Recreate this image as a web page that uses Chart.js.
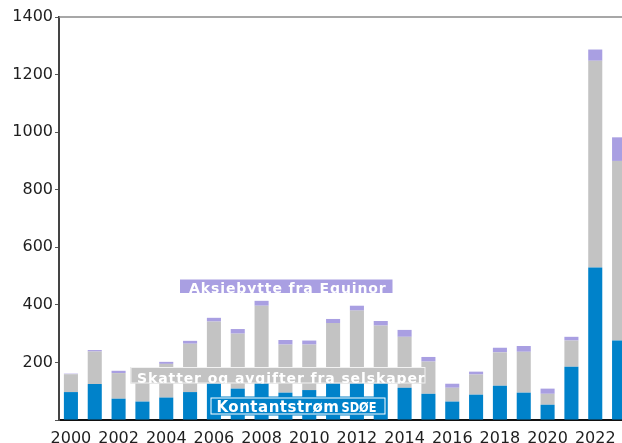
<!DOCTYPE html>
<html>
<head>
<meta charset="utf-8">
<script src="https://cdn.jsdelivr.net/npm/chart.js@4/dist/chart.umd.min.js"></script>
<style>
  html, body { margin: 0; padding: 0; background: #ffffff; overflow: hidden; width: 622px; height: 443px; }
  #wrap { position: absolute; left: 0; top: 0; width: 631px; height: 443px; }
</style>
</head>
<body>
<div id="wrap"><canvas id="c" width="631" height="443"></canvas></div>
<script>
// Statens inntekter fra petroleumsvirksomheten, mrd. kroner
const years = ['2000','2001','2002','2003','2004','2005','2006','2007','2008','2009','2010','2011',
               '2012','2013','2014','2015','2016','2017','2018','2019','2020','2021','2022','2023'];
const kontantstrom = [97,125,74,64,78,97,128,109,130,95,104,130,135,128,112,91,64,88,119,95,53,185,530,276];
const skatter      = [62,113,89,108,117,168,214,191,267,167,158,207,245,200,177,112,48,70,116,142,38,91,718,624];
const aksjebytte   = [2,5,8,6,7,10,13,16,17,16,14,14,17,16,24,16,14,10,16,20,18,13,39,82];
const yTicks = [0,200,400,600,800,1000,1200,1400];

const BLUE = '#0082ca';
const GREY = '#c3c3c3';
const PURPLE = '#a99fe2';
const FONT = '"DejaVu Sans", Verdana, sans-serif';

// Series name boxes drawn inside the plot area
const seriesLabels = {
  id: 'seriesLabels',
  afterDatasetsDraw(chart) {
    const ctx = chart.ctx;
    function box(x, y, w, h, fill, border) {
      ctx.fillStyle = fill;
      ctx.fillRect(x, y, w, h);
      if (border) {
        ctx.strokeStyle = border;
        ctx.lineWidth = 1;
        ctx.strokeRect(x + 1.5, y + 1.5, w - 3, h - 3);
      }
    }
    function text(str, x, base, size, clip, spacing, maxW) {
      ctx.save();
      ctx.beginPath();
      ctx.rect(clip[0], clip[1], clip[2], clip[3]);
      ctx.clip();
      ctx.font = 'bold ' + size + 'px ' + FONT;
      ctx.fillStyle = '#ffffff';
      ctx.textBaseline = 'alphabetic';
      ctx.textAlign = 'left';
      try { ctx.letterSpacing = spacing + 'px'; } catch (e) {}
      if (maxW) ctx.fillText(str, x, base, maxW); else ctx.fillText(str, x, base);
      ctx.restore();
    }
    ctx.save();
    // Aksjebytte fra Equinor
    const a = [180, 279.5, 212.5, 13.5];
    box(a[0], a[1], a[2], a[3], PURPLE, null);
    text('Aksjebytte fra Equinor', 189, 292.5, 14, a, 0.9);
    // Skatter og avgifter fra selskaper
    const s = [130.5, 367, 295, 16.5];
    box(s[0], s[1], s[2], s[3], GREY, null);
    ctx.strokeStyle = '#f2f2f2';
    ctx.lineWidth = 1;
    ctx.strokeRect(s[0] + 0.5, s[1] + 0.5, s[2] - 1, s[3] - 1);
    text('Skatter og avgifter fra selskaper', 137, 382.5, 14, s, 0.9);
    // Kontantstrøm SDØE
    const k = [209.5, 396.5, 177, 19];
    box(k[0], k[1], k[2], k[3], BLUE, '#ffffff');
    text('Kontantstrøm', 216.5, 412, 15, k, 0.5, 123);
    text('SDØE', 341.5, 412, 14.5, k, 0, 35);
    ctx.restore();
  }
};

// Thin frame line along the top of the plot area
const topLine = {
  id: 'topLine',
  beforeDatasetsDraw(chart) {
    const ctx = chart.ctx, ca = chart.chartArea;
    ctx.save();
    ctx.strokeStyle = '#8a8a8a';
    ctx.lineWidth = 1.5;
    ctx.beginPath();
    ctx.moveTo(ca.left, ca.top);
    ctx.lineTo(ca.right + 10, ca.top);
    ctx.stroke();
    ctx.restore();
  }
};

new Chart(document.getElementById('c'), {
  type: 'bar',
  data: {
    labels: years,
    datasets: [
      { label: 'Kontantstrøm SDØE', data: kontantstrom, backgroundColor: BLUE },
      { label: 'Skatter og avgifter fra selskaper', data: skatter, backgroundColor: GREY },
      { label: 'Aksjebytte fra Equinor', data: aksjebytte, backgroundColor: PURPLE }
    ]
  },
  options: {
    responsive: false,
    animation: false,
    devicePixelRatio: 1,
    layout: { padding: { top: 17, right: 0, left: 0, bottom: 0 } },
    datasets: { bar: { categoryPercentage: 1.0, barPercentage: 0.59, borderWidth: 0 } },
    plugins: { legend: { display: false }, tooltip: { enabled: false } },
    scales: {
      x: {
        stacked: true,
        offset: true,
        grid: { display: false, drawTicks: false },
        border: { display: true, color: '#111111', width: 2 },
        ticks: {
          autoSkip: false,
          maxRotation: 0,
          padding: 9,
          color: '#1e1e1e',
          font: { family: FONT, size: 16 },
          callback: function (v, i) { return i % 2 === 0 ? years[i] : ''; }
        },
        afterFit: function (s) { s.height = 23; }
      },
      y: {
        stacked: true,
        min: 0,
        max: 1400,
        afterBuildTicks: function (s) { s.ticks = yTicks.map(v => ({ value: v })); },
        grid: { drawOnChartArea: false, drawTicks: true, tickLength: 4, color: '#555555' },
        border: { display: true, color: '#444444', width: 2 },
        ticks: {
          padding: 2,
          color: '#1e1e1e',
          font: { family: FONT, size: 16 },
          callback: function (v) { return v === 0 ? '' : String(v); }
        },
        afterFit: function (s) { s.width = 59; }
      }
    }
  },
  plugins: [topLine, seriesLabels]
});
</script>
</body>
</html>
